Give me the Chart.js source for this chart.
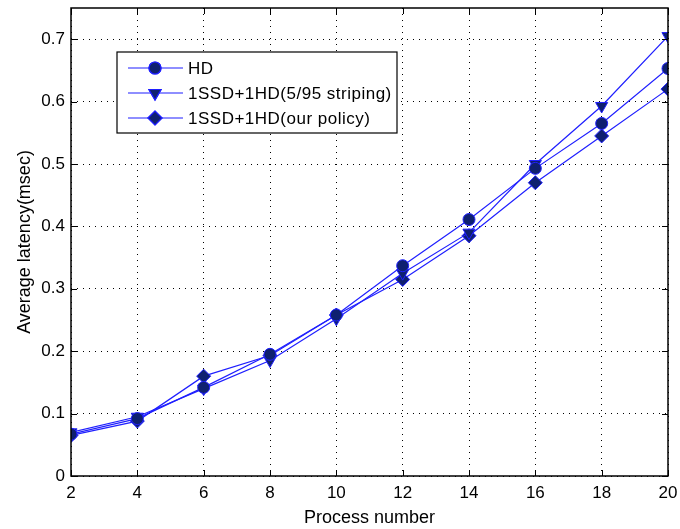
<!DOCTYPE html>
<html>
<head>
<meta charset="utf-8">
<script src="https://cdn.jsdelivr.net/npm/chart.js@4"></script>
<style>
  body { margin: 0; background: #fff; }
  #wrap { width: 680px; height: 529px; }
</style>
</head>
<body>
<div id="wrap"><canvas id="chart"></canvas></div>
<script>
const processNumbers = [2, 4, 6, 8, 10, 12, 14, 16, 18, 20];
const hdLatency = [0.067, 0.092, 0.142, 0.195, 0.258, 0.337, 0.411, 0.493, 0.565, 0.653];
const stripingLatency = [0.070, 0.095, 0.140, 0.185, 0.252, 0.325, 0.390, 0.500, 0.593, 0.705];
const policyLatency = [0.065, 0.088, 0.160, 0.193, 0.258, 0.315, 0.385, 0.470, 0.545, 0.620];
const seriesNames = ['HD', '1SSD+1HD(5/95 striping)', '1SSD+1HD(our policy)'];

const lineBlue = '#1f1fff';
const markFill = '#0f2070';
const family = 'Liberation Sans, Arial, sans-serif';
const tickFont = { family: family, size: 17 };
const titleFont = { family: family, size: 18 };

function makeSet(label, data, style, rot) {
  return {
    label: label,
    data: processNumbers.map((x, i) => ({ x: x, y: data[i] })),
    borderColor: lineBlue,
    borderWidth: 1.2,
    pointStyle: style,
    rotation: rot,
    pointRadius: style === 'circle' ? 6 : 7,
    pointBackgroundColor: markFill,
    pointBorderColor: lineBlue,
    pointBorderWidth: 1,
    tension: 0
  };
}

// box round the plot and inward ticks, like matlab
const frame = {
  id: 'frame',
  afterDraw(chart) {
    const { ctx, chartArea: a, scales } = chart;
    ctx.save();
    ctx.strokeStyle = '#000';
    ctx.lineWidth = 1;
    ctx.beginPath();
    scales.x.ticks.forEach(t => {
      const px = Math.round(scales.x.getPixelForValue(t.value)) + 0.5;
      ctx.moveTo(px, a.bottom); ctx.lineTo(px, a.bottom - 6);
      ctx.moveTo(px, a.top); ctx.lineTo(px, a.top + 6);
    });
    scales.y.ticks.forEach(t => {
      const py = Math.round(scales.y.getPixelForValue(t.value)) + 0.5;
      ctx.moveTo(a.left, py); ctx.lineTo(a.left + 6, py);
      ctx.moveTo(a.right, py); ctx.lineTo(a.right - 6, py);
    });
    ctx.stroke();
    ctx.lineWidth = 1.5;
    ctx.strokeRect(a.left, a.top, a.right - a.left, a.bottom - a.top);

    // legend box
    const lx = 117, ly = 52, lw = 280, lh = 81;
    ctx.fillStyle = '#fff';
    ctx.fillRect(lx, ly, lw, lh);
    ctx.lineWidth = 1.2;
    ctx.strokeRect(lx, ly, lw, lh);
    ctx.font = '17px ' + family;
    ctx.letterSpacing = '0.5px';
    ctx.textBaseline = 'middle';
    chart.data.datasets.forEach((ds, i) => {
      const yy = ly + 16 + i * 25;
      ctx.strokeStyle = lineBlue;
      ctx.lineWidth = 1.2;
      ctx.beginPath();
      ctx.moveTo(lx + 11, yy); ctx.lineTo(lx + 66, yy);
      ctx.stroke();
      Chart.helpers.drawPoint(ctx, {
        pointStyle: ds.pointStyle, rotation: ds.rotation, radius: ds.pointRadius, borderWidth: 1
      }, lx + 38, yy);
      ctx.fillStyle = markFill;
      ctx.strokeStyle = lineBlue;
      ctx.fill(); ctx.stroke();
      ctx.fillStyle = '#000';
      ctx.fillText(ds.label, lx + 71, yy + 1);
    });
    ctx.restore();
  }
};

new Chart(document.getElementById('chart'), {
  type: 'line',
  data: {
    datasets: [
      makeSet(seriesNames[0], hdLatency, 'circle', 0),
      makeSet(seriesNames[1], stripingLatency, 'triangle', 180),
      makeSet(seriesNames[2], policyLatency, 'rectRot', 0)
    ]
  },
  options: {
    responsive: true,
    maintainAspectRatio: false,
    animation: false,
    layout: { padding: { top: 7, right: 12, left: 0, bottom: 0 } },
    plugins: { legend: { display: false }, tooltip: { enabled: false } },
    scales: {
      x: {
        type: 'linear',
        min: 2, max: 20,
        afterFit(s) { s.height = 53; s.paddingLeft = 0; s.paddingRight = 0; },
        border: { display: false, dash: [1, 5] },
        grid: { color: '#000', lineWidth: 1, drawTicks: false },
        ticks: { stepSize: 2, color: '#000', font: tickFont, padding: 7 },
        title: { display: true, text: 'Process number', color: '#000', font: titleFont, padding: 0 }
      },
      y: {
        min: 0, max: 0.75,
        afterFit(s) { s.width = 71; s.paddingTop = 0; s.paddingBottom = 0; },
        afterBuildTicks(s) { s.ticks = [0, 0.1, 0.2, 0.3, 0.4, 0.5, 0.6, 0.7].map(v => ({ value: v })); },
        border: { display: false, dash: [1, 5] },
        grid: { color: '#000', lineWidth: 1, drawTicks: false },
        ticks: { color: '#000', font: tickFont, padding: 6, callback: v => v === 0 ? '0' : v.toFixed(1) },
        title: { display: true, text: 'Average latency(msec)', color: '#000', font: titleFont, padding: { top: 14, bottom: 0 } }
      }
    }
  },
  plugins: [frame]
});
</script>
</body>
</html>
